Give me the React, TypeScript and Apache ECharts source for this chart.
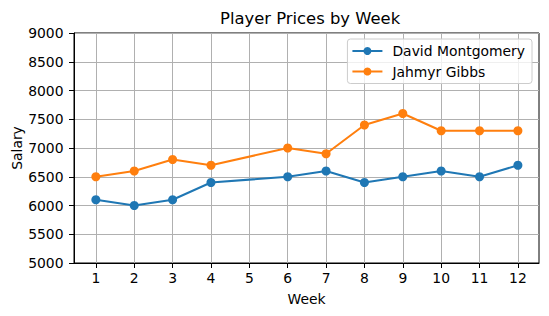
import React, { useEffect, useRef } from "react";
import * as echarts from "echarts";

const weeks = [1, 2, 3, 4, 6, 7, 8, 9, 10, 11, 12];
const tickWeeks = [1, 2, 3, 4, 5, 6, 7, 8, 9, 10, 11, 12];
const davidMontgomery = [6100, 6000, 6100, 6400, 6500, 6600, 6400, 6500, 6600, 6500, 6700];
const jahmyrGibbs = [6500, 6600, 6800, 6700, 7000, 6900, 7400, 7600, 7300, 7300, 7300];

const FONT = "DejaVu Sans";

export default function App() {
  const ref = useRef<HTMLDivElement>(null);
  useEffect(() => {
    if (!ref.current) return;
    const chart = echarts.init(ref.current, null, { renderer: "svg" });
    const pairs = (vals: number[]) => weeks.map((w, i) => [w, vals[i]]);
    const series = [
      { name: "David Montgomery", vals: davidMontgomery, color: "#1f77b4" },
      { name: "Jahmyr Gibbs", vals: jahmyrGibbs, color: "#ff7f0e" },
    ].map((s) => ({
      name: s.name,
      type: "line",
      data: pairs(s.vals),
      symbol: "circle",
      symbolSize: 9,
      showSymbol: true,
      color: s.color,
      lineStyle: { color: s.color, width: 2 },
      itemStyle: { color: s.color },
    }));
    chart.setOption({
      animation: false,
      textStyle: { fontFamily: FONT },
      title: {
        text: "Player Prices by Week",
        left: 215,
        top: 5,
        textStyle: { fontFamily: FONT, fontSize: 16.4, fontWeight: "normal", color: "#000" },
      },
      legend: {
        orient: "vertical",
        right: 17,
        top: 39,
        itemWidth: 30,
        itemHeight: 10,
        itemGap: 6.5,
        padding: [5, 7, 5, 4],
        backgroundColor: "rgba(255,255,255,0.8)",
        borderColor: "#cccccc",
        borderWidth: 1,
        borderRadius: 3,
        textStyle: { fontFamily: FONT, fontSize: 13.9, color: "#000", padding: [0, 0, 0, 5] },
        data: ["David Montgomery", "Jahmyr Gibbs"],
      },
      grid: {
        left: 74,
        top: 33,
        right: 10,
        bottom: 53,
        outerBoundsMode: "none",
        containLabel: false,
        show: true,
        borderColor: "#000",
        borderWidth: 1,
        backgroundColor: "transparent",
      },
      xAxis: {
        type: "value",
        min: 0.43,
        max: 12.55,
        name: "Week",
        nameLocation: "middle",
        nameGap: 29,
        nameMoveOverlap: false,
        nameTextStyle: { fontFamily: FONT, fontSize: 13.9, color: "#000" },
        axisLine: { show: true, lineStyle: { color: "#000", width: 1 } },
        axisTick: { show: true, length: 5, lineStyle: { color: "#000" }, customValues: tickWeeks },
        axisLabel: { fontFamily: FONT, fontSize: 13.9, color: "#000", margin: 8, customValues: tickWeeks },
        splitLine: { show: true, lineStyle: { color: "#b0b0b0", width: 1 } },
      },
      yAxis: {
        type: "value",
        min: 5000,
        max: 9000,
        interval: 500,
        name: "Salary",
        nameLocation: "middle",
        nameGap: 50.5,
        nameMoveOverlap: false,
        nameTextStyle: { fontFamily: FONT, fontSize: 13.9, color: "#000" },
        axisLine: { show: true, lineStyle: { color: "#000", width: 1 } },
        axisTick: { show: true, length: 5, lineStyle: { color: "#000" } },
        axisLabel: {
          fontFamily: FONT,
          fontSize: 13.9,
          color: "#000",
          margin: 10.5,
          formatter: (v: number) => String(v),
        },
        splitLine: { show: true, lineStyle: { color: "#b0b0b0", width: 1 } },
      },
      series,
    });
    return () => chart.dispose();
  }, []);
  return (
    <div
      ref={ref}
      style={{ position: "fixed", left: 0, top: 0, width: 549, height: 316, background: "#fff" }}
    />
  );
}
